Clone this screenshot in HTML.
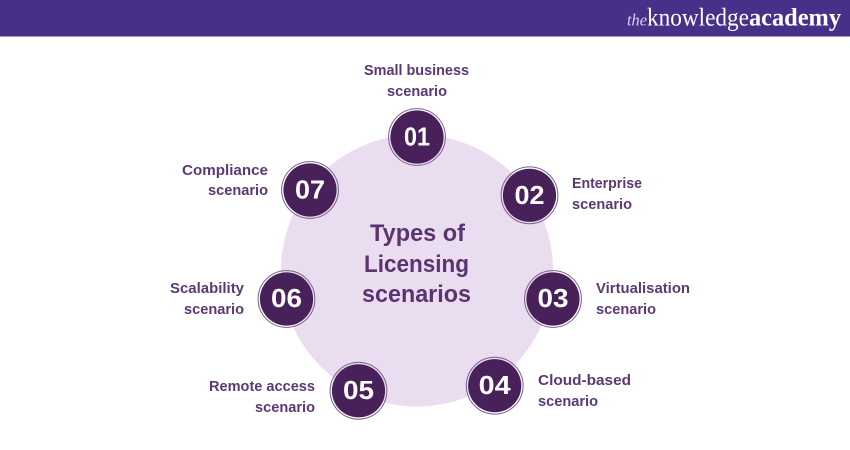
<!DOCTYPE html>
<html><head><meta charset="utf-8"><style>
html,body{margin:0;padding:0;background:#fff}
svg{display:block}
.l{font:bold 14.5px "Liberation Sans",sans-serif;fill:#5c3874}
.n{font:bold 26px "Liberation Sans",sans-serif;fill:#fff}
.t{font:bold 24px "Liberation Sans",sans-serif;fill:#5a3470}
</style></head><body>
<svg width="850" height="450" viewBox="0 0 850 450" xmlns="http://www.w3.org/2000/svg">
<rect width="850" height="450" fill="#fff"/>
<rect width="850" height="36.5" fill="#46308a"/>
<text x="627" y="25.5" font-family="Liberation Serif,serif" font-style="italic" font-size="17" fill="#d9d2ea" textLength="20" lengthAdjust="spacingAndGlyphs">the</text>
<text x="647" y="25.5" font-family="Liberation Serif,serif" font-size="25" fill="#fff" textLength="102" lengthAdjust="spacingAndGlyphs">knowledge</text>
<text x="749" y="25.5" font-family="Liberation Serif,serif" font-weight="bold" font-size="25" fill="#fff" textLength="92" lengthAdjust="spacingAndGlyphs">academy</text>
<circle cx="417" cy="270.5" r="136" fill="#eaddef"/>
<g fill="#48215a">
<circle cx="417" cy="137" r="26.6"/><circle cx="529.5" cy="195.3" r="26.6"/><circle cx="553" cy="299" r="26.6"/><circle cx="494.7" cy="385.7" r="26.6"/><circle cx="358.5" cy="390.8" r="26.6"/><circle cx="286.5" cy="299" r="26.6"/><circle cx="310" cy="190" r="26.6"/>
</g>
<g fill="none" stroke="#7a5e8e" stroke-width="1">
<circle cx="417" cy="137" r="28.4"/><circle cx="529.5" cy="195.3" r="28.4"/><circle cx="553" cy="299" r="28.4"/><circle cx="494.7" cy="385.7" r="28.4"/><circle cx="358.5" cy="390.8" r="28.4"/><circle cx="286.5" cy="299" r="28.4"/><circle cx="310" cy="190" r="28.4"/>
</g>
<g text-anchor="middle">
<text class="n" x="417" y="145.5" textLength="26" lengthAdjust="spacingAndGlyphs">01</text>
<text class="n" x="529.5" y="204" textLength="30" lengthAdjust="spacingAndGlyphs">02</text>
<text class="n" x="553" y="307" textLength="31" lengthAdjust="spacingAndGlyphs">03</text>
<text class="n" x="494.7" y="394" textLength="32" lengthAdjust="spacingAndGlyphs">04</text>
<text class="n" x="358.5" y="399" textLength="31" lengthAdjust="spacingAndGlyphs">05</text>
<text class="n" x="286.5" y="307" textLength="31" lengthAdjust="spacingAndGlyphs">06</text>
<text class="n" x="310" y="198.5" textLength="30" lengthAdjust="spacingAndGlyphs">07</text>
</g>
<text class="t" x="370" y="241" textLength="95" lengthAdjust="spacingAndGlyphs">Types of</text>
<text class="t" x="364" y="272" textLength="105" lengthAdjust="spacingAndGlyphs">Licensing</text>
<text class="t" x="362" y="302" textLength="109" lengthAdjust="spacingAndGlyphs">scenarios</text>
<text class="l" x="364" y="75" textLength="105" lengthAdjust="spacingAndGlyphs">Small business</text>
<text class="l" x="387" y="96" textLength="60" lengthAdjust="spacingAndGlyphs">scenario</text>
<text class="l" x="572" y="188" textLength="70" lengthAdjust="spacingAndGlyphs">Enterprise</text>
<text class="l" x="572" y="209" textLength="60" lengthAdjust="spacingAndGlyphs">scenario</text>
<text class="l" x="596" y="293" textLength="94" lengthAdjust="spacingAndGlyphs">Virtualisation</text>
<text class="l" x="596" y="314" textLength="60" lengthAdjust="spacingAndGlyphs">scenario</text>
<text class="l" x="538" y="385" textLength="93" lengthAdjust="spacingAndGlyphs">Cloud-based</text>
<text class="l" x="538" y="406" textLength="60" lengthAdjust="spacingAndGlyphs">scenario</text>
<text class="l" x="209" y="391" textLength="106" lengthAdjust="spacingAndGlyphs">Remote access</text>
<text class="l" x="255" y="412" textLength="60" lengthAdjust="spacingAndGlyphs">scenario</text>
<text class="l" x="170" y="293" textLength="74" lengthAdjust="spacingAndGlyphs">Scalability</text>
<text class="l" x="184" y="314" textLength="60" lengthAdjust="spacingAndGlyphs">scenario</text>
<text class="l" x="182" y="175" textLength="86" lengthAdjust="spacingAndGlyphs">Compliance</text>
<text class="l" x="208" y="195" textLength="60" lengthAdjust="spacingAndGlyphs">scenario</text>
</svg>
</body></html>
